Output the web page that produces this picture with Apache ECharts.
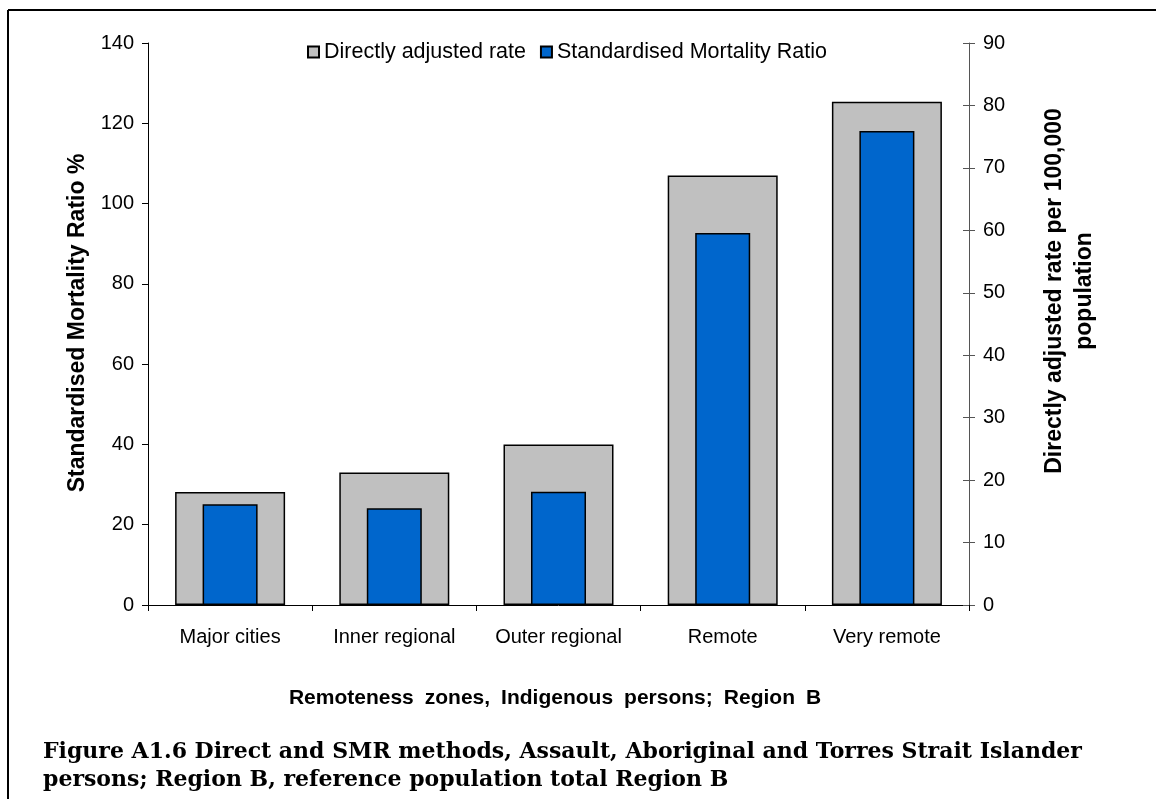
<!DOCTYPE html>
<html>
<head>
<meta charset="utf-8">
<script src="https://cdn.jsdelivr.net/npm/echarts@6/dist/echarts.min.js"></script>
<style>
  html, body { margin: 0; padding: 0; background: #fff; }
  #chart { width: 1156px; height: 799px; }
</style>
</head>
<body>
<div id="chart"></div>
<script>
// categories and values
const zones = ["Major cities", "Inner regional", "Outer regional", "Remote", "Very remote"];
const directRate = [18.1, 21.2, 25.7, 68.8, 80.6];   // right axis, per 100,000
const smrValues = [25.1, 24.1, 28.2, 92.7, 118.1];   // left axis, %
const smrTicks = { min: 0, max: 140, interval: 20 };
const rateTicks = { min: 0, max: 90, interval: 10 };
const xTitleWords = ["Remoteness", "zones,", "Indigenous", "persons;", "Region", "B"];

const font = "'Liberation Sans', Arial, sans-serif";
const chart = echarts.init(document.getElementById("chart"));

const options = {
  backgroundColor: "#fff",
  animation: false,
  grid: { left: 148, right: 187, top: 43, bottom: 194 },
  legend: {
    left: 302,
    top: 36,
    itemWidth: 11,
    itemHeight: 11,
    itemGap: 14,
    icon: "rect",
    textStyle: { fontFamily: font, fontSize: 21.5, color: "#000" },
    data: ["Directly adjusted rate", "Standardised Mortality Ratio"]
  },
  xAxis: [
    {
      type: "category",
      data: zones,
      axisLine: { lineStyle: { color: "#000", width: 1 } },
      axisTick: { show: true, interval: 0, length: 6, lineStyle: { color: "#000" } },
      axisLabel: { interval: 0, fontFamily: font, fontSize: 20, color: "#000", margin: 22 }
    },
    {
      // hidden twin so the narrow bars centre on their own
      type: "category",
      data: zones,
      show: false
    }
  ],
  yAxis: [
    {
      type: "value",
      position: "left",
      min: smrTicks.min,
      max: smrTicks.max,
      interval: smrTicks.interval,
      splitLine: { show: false },
      axisLine: { show: true, lineStyle: { color: "#000" } },
      axisTick: { show: true, length: 6, lineStyle: { color: "#000" } },
      axisLabel: { fontFamily: font, fontSize: 20, color: "#000", margin: 14 }
    },
    {
      type: "value",
      position: "right",
      min: rateTicks.min,
      max: rateTicks.max,
      interval: rateTicks.interval,
      splitLine: { show: false },
      axisLine: { show: true, lineStyle: { color: "#555" } },
      axisTick: { show: true, length: 6, lineStyle: { color: "#555" } },
      axisLabel: { fontFamily: font, fontSize: 20, color: "#000", margin: 14 }
    },
    {
      // inner half of the crossing ticks on the right axis
      type: "value",
      position: "right",
      min: rateTicks.min,
      max: rateTicks.max,
      interval: rateTicks.interval,
      splitLine: { show: false },
      axisLine: { show: false },
      axisTick: { show: true, inside: true, length: 6, lineStyle: { color: "#555" } },
      axisLabel: { show: false }
    }
  ],
  series: [
    {
      name: "Directly adjusted rate",
      type: "bar",
      xAxisIndex: 0,
      yAxisIndex: 1,
      barWidth: 110,
      itemStyle: { color: "#C0C0C0", borderColor: "#000", borderWidth: 1.5 },
      data: directRate
    },
    {
      name: "Standardised Mortality Ratio",
      type: "bar",
      xAxisIndex: 1,
      yAxisIndex: 0,
      barWidth: 55,
      itemStyle: { color: "#0066CC", borderColor: "#000", borderWidth: 1.5 },
      data: smrValues
    }
  ],
  graphic: [
    // figure frame (left and top edges)
    { type: "line", shape: { x1: 8, y1: 10, x2: 8, y2: 799 }, style: { stroke: "#000", lineWidth: 2 } },
    { type: "line", shape: { x1: 8, y1: 10, x2: 1156, y2: 10 }, style: { stroke: "#000", lineWidth: 2 } },
    {
      type: "text", x: 78, y: 323, rotation: Math.PI / 2,
      style: {
        text: "Standardised Mortality Ratio %",
        fontFamily: font, fontSize: 23, fontWeight: "bold", fill: "#000",
        textAlign: "center", textVerticalAlign: "middle"
      }
    },
    {
      type: "text", x: 1070, y: 291, rotation: Math.PI / 2,
      style: {
        text: "Directly adjusted rate per 100,000\npopulation",
        fontFamily: font, fontSize: 23, fontWeight: "bold", fill: "#000",
        lineHeight: 30,
        textAlign: "center", textVerticalAlign: "middle"
      }
    },
    {
      // excel spreads this title out, so the word gaps are widened a bit
      type: "text", x: 555, y: 698,
      style: {
        text: xTitleWords.map(w => "{w|" + w + "}").join("{s| }"),
        rich: {
          w: { fontFamily: font, fontSize: 21, fontWeight: "bold", fill: "#000" },
          s: { fontFamily: font, fontSize: 21, width: 11 }
        },
        textAlign: "center", textVerticalAlign: "middle"
      }
    },
    {
      type: "text", x: 43, y: 766,
      style: {
        text: "Figure A1.6 Direct and SMR methods, Assault, Aboriginal and Torres Strait Islander\npersons; Region B, reference population total Region B",
        fontFamily: "'DejaVu Serif', serif", fontSize: 22, fontWeight: "bold", fill: "#000",
        lineHeight: 28,
        textAlign: "left", textVerticalAlign: "middle"
      }
    }
  ]
};

chart.setOption(options);
</script>
</body>
</html>
